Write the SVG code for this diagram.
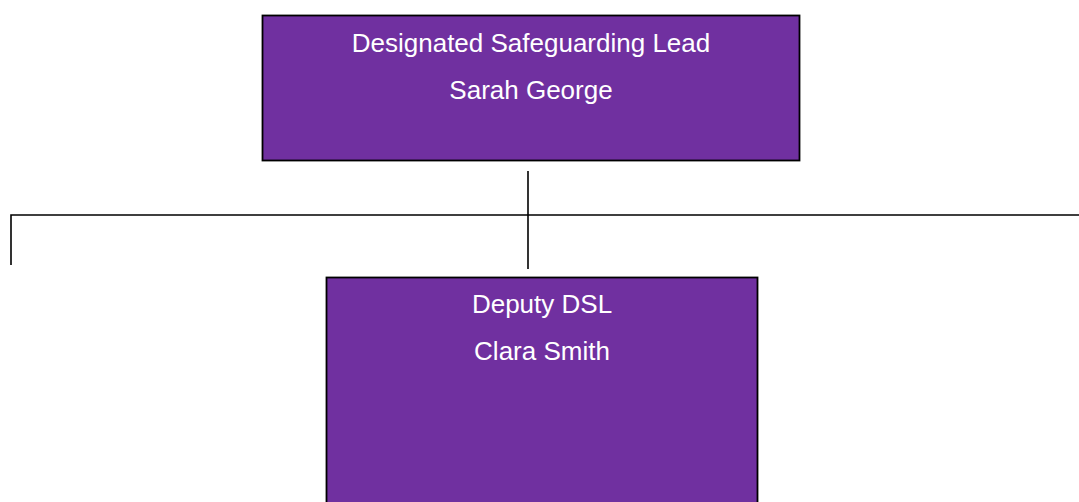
<svg xmlns="http://www.w3.org/2000/svg" width="1079" height="502" viewBox="0 0 1079 502">
<style>
.box{fill:#7030A0;stroke:#000;stroke-width:1.8}
.t{font-family:"Liberation Sans",Arial,sans-serif;font-size:26px;fill:#fff;text-anchor:middle}
.c{stroke:#000;stroke-width:1.6;fill:none}
</style>
<rect width="1079" height="502" fill="#fff"/>
<g id="connectors">
<line class="c" x1="528" y1="171" x2="528" y2="269"/>
<polyline class="c" points="11,265 11,215 1079,215"/>
</g>
<g id="dsl">
<rect class="box" x="262.5" y="15.5" width="537" height="145"/>
<text class="t" x="531" y="52">Designated Safeguarding Lead</text>
<text class="t" x="531" y="99">Sarah George</text>
</g>
<g id="deputy">
<rect class="box" x="326.5" y="277.5" width="431" height="230"/>
<text class="t" x="542" y="313">Deputy DSL</text>
<text class="t" x="542" y="360">Clara Smith</text>
</g>
</svg>
